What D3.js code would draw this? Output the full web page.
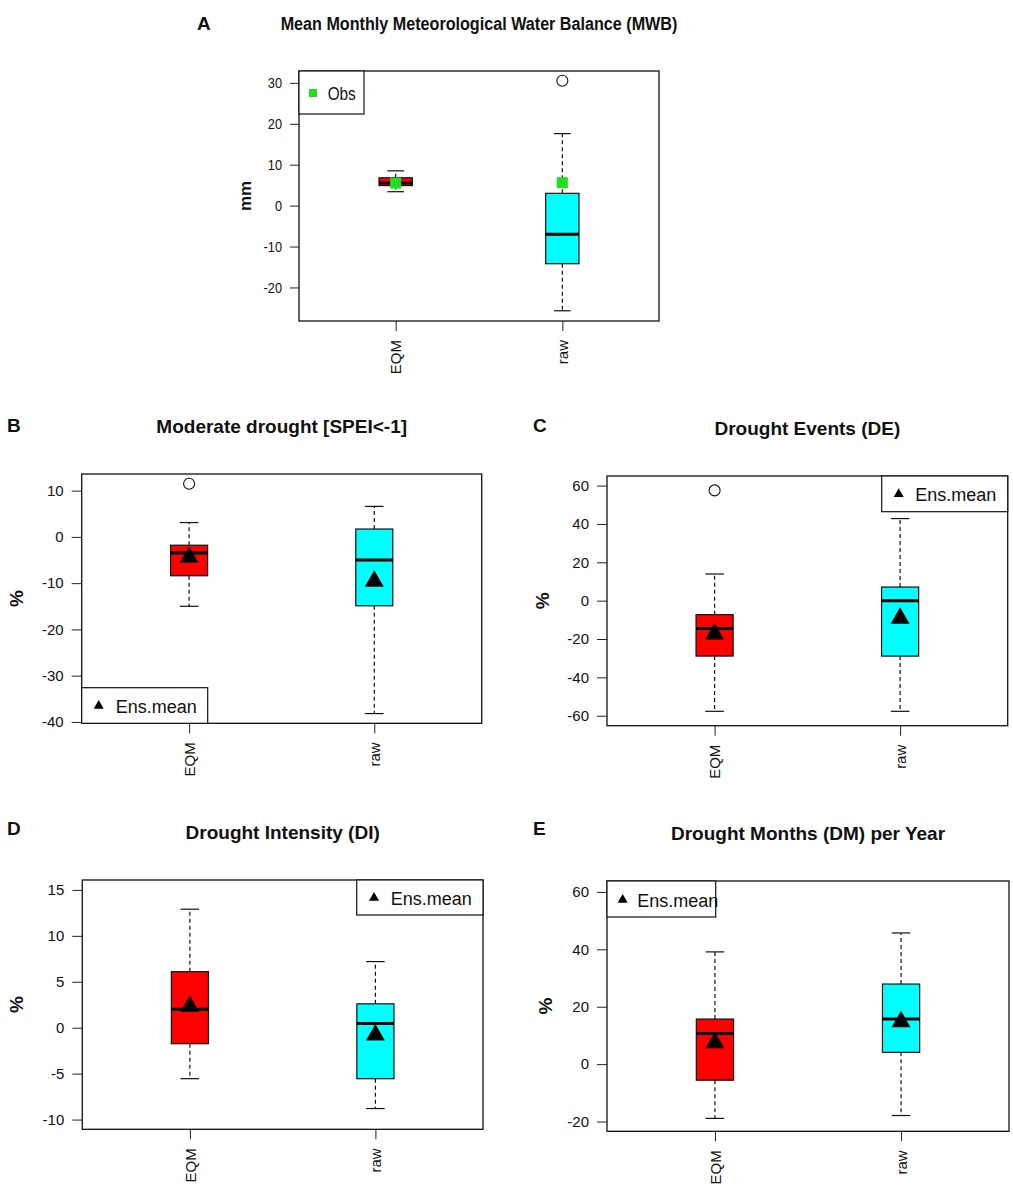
<!DOCTYPE html>
<html>
<head>
<meta charset="utf-8">
<script src="https://cdn.jsdelivr.net/npm/d3@7"></script>
<style>
body { margin: 0; background: #fff; }
text { font-family: "Liberation Sans", Arial, sans-serif; fill: #111; }
</style>
</head>
<body>
<div id="chart"></div>
<script>
const categories = ["EQM", "raw"];
const titles = ["Mean Monthly Meteorological Water Balance (MWB)", "Moderate drought [SPEI<-1]",
    "Drought Events (DE)", "Drought Intensity (DI)", "Drought Months (DM) per Year"];
const letters = ["A", "B", "C", "D", "E"];
const yLabels = ["mm", "%", "%", "%", "%"];
const boxColors = ["#ff0000", "#00ffff"];

// [lower whisker, Q1, median, Q3, upper whisker] for EQM and raw
const mwbBoxes = [[3.4, 4.9, 5.5, 6.8, 8.5], [-25.7, -14.2, -7.0, 3.0, 17.6]];
const mwbOutliers = [[], [30.5]];
const mwbObs = [5.5, 5.6];
const mwbTicks = [-20, -10, 0, 10, 20, 30];
const mwbRange = [-28.2, 32.9];

const modBoxes = [[-15.0, -8.4, -3.5, -1.8, 3.1], [-38.2, -14.9, -5.0, 1.7, 6.6]];
const modOutliers = [[11.5], []];
const modMeans = [-3.8, -9.0];
const modTicks = [-40, -30, -20, -10, 0, 10];
const modRange = [-40.3, 13.6];

const deBoxes = [[-57.7, -28.9, -14.5, -7.3, 13.9], [-57.7, -28.9, 0, 7.1, 42.8]];
const deOutliers = [[57.5], []];
const deMeans = [-16.0, -7.7];
const deTicks = [-60, -40, -20, 0, 20, 40, 60];
const deRange = [-65.2, 65.0];

const diBoxes = [[-5.55, -1.74, 2.0, 6.1, 12.9], [-8.8, -5.55, 0.45, 2.6, 7.2]];
const diOutliers = [[], []];
const diMeans = [2.6, -0.5];
const diTicks = [-10, -5, 0, 5, 10, 15];
const diRange = [-11.06, 16.08];

const dmBoxes = [[-18.9, -5.6, 10.7, 15.7, 39.1], [-17.9, 4.1, 15.7, 27.9, 45.7]];
const dmOutliers = [[], []];
const dmMeans = [8.4, 15.7];
const dmTicks = [-20, 0, 20, 40, 60];
const dmRange = [-23.4, 63.8];

const panels = [
    {boxes: mwbBoxes, outliers: mwbOutliers, obs: mwbObs, ticks: mwbTicks, range: mwbRange,
        left: 299, top: 71, width: 360, height: 250, squeeze: 0.85, tick: 9, ylabOff: 54, ylabSize: 17,
        letter: [197, 30], legend: {pos: "topleft", w: 65, h: 43, sx: 14, tx: 28.7, sy: 22, ty: 29}},
    {boxes: modBoxes, outliers: modOutliers, means: modMeans, ticks: modTicks, range: modRange,
        left: 81.7, top: 474, width: 400, height: 249.3, squeeze: 1, tick: 10, ylabOff: 65, ylabSize: 19,
        letter: [7, 432], legend: {pos: "bottomleft", w: 126, h: 35.6, sx: 17, tx: 34, sy: 16.7, ty: 25.5}},
    {boxes: deBoxes, outliers: deOutliers, means: deMeans, ticks: deTicks, range: deRange,
        left: 607, top: 476, width: 400.7, height: 249.7, squeeze: 1, tick: 10, ylabOff: 65, ylabSize: 19,
        letter: [533, 432], legend: {pos: "topright", w: 126, h: 35.7, sx: 17, tx: 33.5, sy: 16.7, ty: 25.2}},
    {boxes: diBoxes, outliers: diOutliers, means: diMeans, ticks: diTicks, range: diRange,
        left: 82.3, top: 880, width: 400.7, height: 249.3, squeeze: 1, tick: 10, ylabOff: 66, ylabSize: 19,
        letter: [7, 835], legend: {pos: "topright", w: 126.3, h: 35, sx: 17.3, tx: 34, sy: 16.3, ty: 25}},
    {boxes: dmBoxes, outliers: dmOutliers, means: dmMeans, ticks: dmTicks, range: dmRange,
        left: 607, top: 881, width: 402, height: 250.3, squeeze: 1, tick: 10, ylabOff: 62, ylabSize: 19,
        letter: [533, 835], legend: {pos: "topleft", w: 108.7, h: 36, sx: 15.7, tx: 30.3, sy: 17.3, ty: 25.7}}
];

const svg = d3.select("#chart")
    .append("svg")
    .attr("width", 1013)
    .attr("height", 1192)
    .style("background", "#fff");

function triangle(w) {
    const h = w * 0.866;
    return "M0," + (-h / 2) + "L" + (w / 2) + "," + (h / 2) + "L" + (-w / 2) + "," + (h / 2) + "Z";
}

function drawPanel(p, i) {
    const g = svg.append("g");
    const sq = p.squeeze;

    const x = d3.scalePoint()
        .domain(categories)
        .range([p.left, p.left + p.width])
        .padding(0.58);
    const y = d3.scaleLinear()
        .domain(p.range)
        .range([p.top + p.height, p.top]);
    const bw = x.step() * 0.2;

    // y axis
    const ya = g.append("g")
        .attr("transform", "translate(" + p.left + ",0)")
        .call(d3.axisLeft(y).tickValues(p.ticks).tickSize(p.tick).tickPadding(8).tickFormat(d => String(d)))
        .attr("font-family", "Liberation Sans, Arial, sans-serif")
        .attr("font-size", 15);
    ya.select(".domain").remove();
    ya.selectAll(".tick line").attr("stroke", "#222");
    ya.selectAll(".tick text")
        .attr("fill", "#111")
        .attr("x", -(p.tick + 8) / sq)
        .attr("transform", "scale(" + sq + ",1)");

    // x axis
    const xa = g.append("g")
        .attr("transform", "translate(0," + (p.top + p.height) + ")")
        .call(d3.axisBottom(x).tickSize(10).tickPadding(9))
        .attr("font-family", "Liberation Sans, Arial, sans-serif")
        .attr("font-size", 15);
    xa.select(".domain").remove();
    xa.selectAll(".tick line").attr("stroke", "#222");
    xa.selectAll(".tick text")
        .attr("fill", "#111")
        .attr("transform", "rotate(-90)")
        .attr("text-anchor", "end")
        .attr("x", -19)
        .attr("y", 0)
        .attr("dy", "0.35em");

    const stats = p.boxes.map((b, k) => ({cat: categories[k], lo: b[0], q1: b[1], med: b[2], q3: b[3], hi: b[4], k: k}));

    // whiskers
    g.selectAll(".whisk-up").data(stats).join("line")
        .attr("x1", d => x(d.cat)).attr("x2", d => x(d.cat))
        .attr("y1", d => y(d.q3)).attr("y2", d => y(d.hi))
        .attr("stroke", "#111").attr("stroke-width", 1.2).attr("stroke-dasharray", "4,3");
    g.selectAll(".whisk-down").data(stats).join("line")
        .attr("x1", d => x(d.cat)).attr("x2", d => x(d.cat))
        .attr("y1", d => y(d.q1)).attr("y2", d => y(d.lo))
        .attr("stroke", "#111").attr("stroke-width", 1.2).attr("stroke-dasharray", "4,3");
    ["hi", "lo"].forEach(key => {
        g.selectAll(".staple-" + key).data(stats).join("line")
            .attr("x1", d => x(d.cat) - bw / 4).attr("x2", d => x(d.cat) + bw / 4)
            .attr("y1", d => y(d[key])).attr("y2", d => y(d[key]))
            .attr("stroke", "#111").attr("stroke-width", 1.2);
    });

    // boxes
    g.selectAll(".box").data(stats).join("rect")
        .attr("x", d => x(d.cat) - bw / 2)
        .attr("width", bw)
        .attr("y", d => y(d.q3))
        .attr("height", d => y(d.q1) - y(d.q3))
        .attr("fill", d => boxColors[d.k])
        .attr("stroke", "#111")
        .attr("stroke-width", 1.2);
    g.selectAll(".median").data(stats).join("line")
        .attr("x1", d => x(d.cat) - bw / 2).attr("x2", d => x(d.cat) + bw / 2)
        .attr("y1", d => y(d.med)).attr("y2", d => y(d.med))
        .attr("stroke", "#000").attr("stroke-width", 3);

    // outliers
    const outs = [];
    p.outliers.forEach((arr, k) => arr.forEach(v => outs.push({cat: categories[k], v: v})));
    g.selectAll(".outlier").data(outs).join("circle")
        .attr("cx", d => x(d.cat)).attr("cy", d => y(d.v)).attr("r", 5.5)
        .attr("fill", "#fff").attr("stroke", "#111").attr("stroke-width", 1.1);

    // ensemble means
    if (p.means) {
        g.selectAll(".mean").data(p.means).join("path")
            .attr("d", triangle(19))
            .attr("transform", (d, k) => "translate(" + x(categories[k]) + "," + y(d) + ")")
            .attr("fill", "#000");
    }
    // observations
    if (p.obs) {
        g.selectAll(".obs").data(p.obs).join("rect")
            .attr("x", (d, k) => x(categories[k]) - 5.5)
            .attr("y", d => y(d) - 5.5)
            .attr("width", 11).attr("height", 11)
            .attr("fill", "#1ee01e");
    }

    // frame
    g.append("rect")
        .attr("x", p.left).attr("y", p.top)
        .attr("width", p.width).attr("height", p.height)
        .attr("fill", "none").attr("stroke", "#111").attr("stroke-width", 1.3);

    // legend
    const L = p.legend;
    const lx = L.pos.endsWith("left") ? p.left : p.left + p.width - L.w;
    const ly = L.pos.startsWith("top") ? p.top : p.top + p.height - L.h;
    const lg = g.append("g").attr("transform", "translate(" + lx + "," + ly + ")");
    lg.append("rect")
        .attr("width", L.w).attr("height", L.h)
        .attr("fill", "#fff").attr("stroke", "#111").attr("stroke-width", 1.2);
    if (p.obs) {
        lg.append("rect")
            .attr("x", L.sx - 4).attr("y", L.sy - 4).attr("width", 8).attr("height", 8)
            .attr("fill", "#1ee01e");
    } else {
        lg.append("path")
            .attr("d", triangle(10))
            .attr("transform", "translate(" + L.sx + "," + L.sy + ")")
            .attr("fill", "#000");
    }
    lg.append("text")
        .attr("transform", "translate(" + L.tx + "," + L.ty + ") scale(" + sq + ",1)")
        .attr("font-size", 18)
        .text(p.obs ? "Obs" : "Ens.mean");

    // title, panel letter, y label
    g.append("text")
        .attr("transform", "translate(" + (p.left + p.width / 2) + "," + (p.top - 41.5) + ") scale(" + sq + ",1)")
        .attr("text-anchor", "middle")
        .attr("font-size", 19)
        .attr("font-weight", "bold")
        .text(titles[i]);
    g.append("text")
        .attr("x", p.letter[0]).attr("y", p.letter[1])
        .attr("font-size", 19)
        .attr("font-weight", "bold")
        .text(letters[i]);
    g.append("text")
        .attr("transform", "translate(" + (p.left - p.ylabOff) + "," + (p.top + p.height / 2) + ") rotate(-90)")
        .attr("text-anchor", "middle")
        .attr("dy", "0.35em")
        .attr("font-size", p.ylabSize)
        .attr("font-weight", "bold")
        .text(yLabels[i]);
}

panels.forEach(drawPanel);
</script>
</body>
</html>
